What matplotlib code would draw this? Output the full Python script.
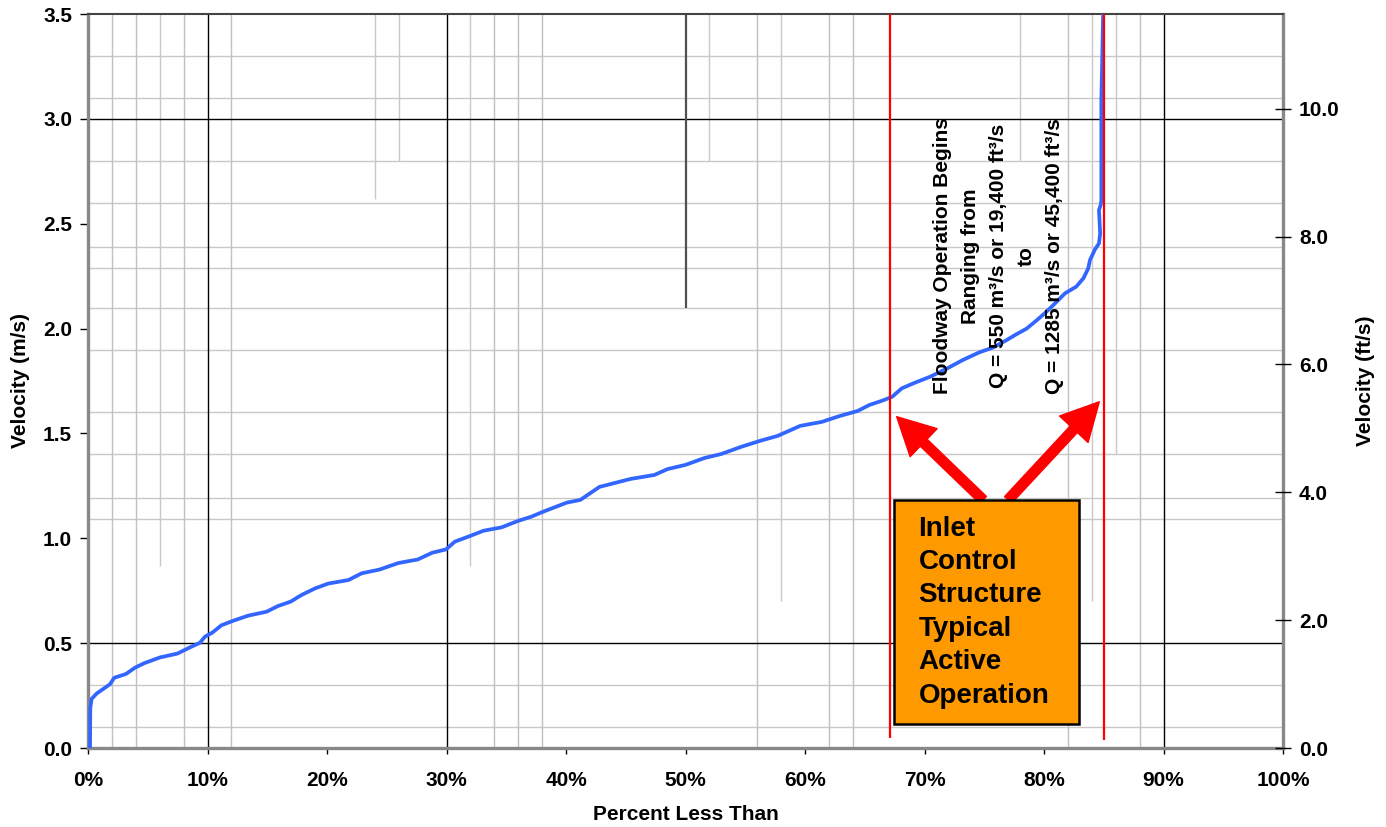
import matplotlib
matplotlib.use("Agg")
import matplotlib.pyplot as plt
from matplotlib.patches import Rectangle
from matplotlib.ticker import FuncFormatter

plt.rcParams['font.family'] = ['Liberation Sans', 'DejaVu Sans']
plt.rcParams['font.weight'] = 'bold'

# ---- data -------------------------------------------------------------
pct = [0.17, 0.19, 0.3, 0.73, 1.84, 2.2, 3.18, 3.93, 4.69, 6.03, 7.47, 8.54, 9.37,
       9.79, 10.4, 11.16, 12.16, 13.4, 14.95, 15.9, 16.96, 17.88, 19.0, 20.1, 21.8,
       22.9, 24.4, 25.97, 27.6, 28.8, 29.96, 30.7, 31.97, 33.1, 34.6, 36.0, 37.1,
       38.1, 40.06, 41.2, 42.8, 45.4, 47.4, 48.5, 50.0, 51.6, 53.0, 54.6, 56.2,
       57.7, 59.6, 61.4, 62.9, 64.4, 65.4, 66.4, 67.3, 68.1, 69.2, 70.5, 71.9,
       73.2, 74.6, 75.76, 76.9, 77.6, 78.55, 79.4, 80.2, 81.06, 81.76, 82.7, 83.3,
       83.7, 83.85, 84.27, 84.6, 84.7, 84.6, 84.75, 84.8, 84.8, 84.95]
vel = [0.0, 0.19, 0.234, 0.26, 0.304, 0.335, 0.353, 0.383, 0.404, 0.432, 0.45, 0.48,
       0.502, 0.531, 0.55, 0.585, 0.607, 0.631, 0.65, 0.677, 0.698, 0.73, 0.761,
       0.784, 0.801, 0.833, 0.851, 0.882, 0.899, 0.931, 0.947, 0.984, 1.011, 1.036,
       1.052, 1.083, 1.103, 1.127, 1.17, 1.183, 1.245, 1.283, 1.302, 1.33, 1.35,
       1.383, 1.402, 1.435, 1.464, 1.488, 1.536, 1.555, 1.583, 1.607, 1.636, 1.655,
       1.675, 1.715, 1.742, 1.771, 1.81, 1.85, 1.887, 1.91, 1.946, 1.97, 2.0, 2.04,
       2.08, 2.128, 2.168, 2.2, 2.24, 2.287, 2.327, 2.378, 2.406, 2.454, 2.565,
       2.59, 2.613, 3.09, 3.5]

x_ticks = [0, 10, 20, 30, 40, 50, 60, 70, 80, 90, 100]
y_ticks_ms = [0.0, 0.5, 1.0, 1.5, 2.0, 2.5, 3.0, 3.5]
y_ticks_fts = [0.0, 2.0, 4.0, 6.0, 8.0, 10.0]
MS_TO_FTS = 3.28084

# gridlines as they appear in the picture
grid_x_gray = [2, 4, 8, 12, 34, 36, 38, 56, 62, 64, 82, 88]
grid_x_gray_partial = [6, 24, 26, 32, 52, 58, 78, 84, 86]
grid_x_gray_partial_low = [0.87, 2.62, 2.8, 0.87, 2.8, 0.7, 2.8, 0.7, 1.4]
grid_x_black = [10, 30, 90]
grid_x_dark_partial = [50]
grid_x_dark_partial_low = [2.1]
grid_y_gray = [0.1, 0.3, 1.09, 1.19, 1.4, 1.6, 1.9, 2.1, 2.29, 2.39, 2.6, 2.8, 3.1, 3.3]
grid_y_black = [0.5, 3.0]

red_lines_x = [67.15, 85.05]
red_lines_low = [0.05, 0.04]

arrow_tails = [(74.9, 1.183), (77.0, 1.183)]
arrow_tips = [(67.67, 1.58), (84.63, 1.651)]

box_x = (67.47, 82.95)
box_y = (0.114, 1.183)
box_text = "Inlet\nControl\nStructure\nTypical\nActive\nOperation"
note_text = ("Floodway Operation Begins\nRanging from\n"
             "Q = 550 m\u00b3/s or 19,400 ft\u00b3/s\nto\n"
             "Q = 1285 m\u00b3/s or 45,400 ft\u00b3/s")

# ---- figure -----------------------------------------------------------
fig = plt.figure(figsize=(13.86, 8.27), dpi=100)
ax = fig.add_axes([88 / 1386, 79 / 827, 1195 / 1386, 734 / 827])
ax.set_xlim(0, 100)
ax.set_ylim(0, 3.5)

# gridlines
for yv in grid_y_gray:
    ax.axhline(yv, color='#c8c8c8', lw=1.0, zorder=1)
for xv in grid_x_gray:
    ax.axvline(xv, color='#c0c0c0', lw=1.0, zorder=1)
ax.vlines(grid_x_gray_partial, grid_x_gray_partial_low, 3.5, color='#c8c8c8', lw=1.0, zorder=1)
for yv in grid_y_black:
    ax.axhline(yv, color='black', lw=1.0, zorder=2)
for xv in grid_x_black:
    ax.axvline(xv, color='black', lw=1.0, zorder=2)
ax.vlines(grid_x_dark_partial, grid_x_dark_partial_low, 3.5, color='#505050', lw=1.6, zorder=2)

# data curve
ax.plot(pct, vel, color='#3366ff', lw=2.7, zorder=4, solid_joinstyle='round')

# red boundary lines
ax.vlines(red_lines_x, red_lines_low, 3.5, color='#ff0000', lw=1.6, zorder=5)

# arrows
for tail, tip in zip(arrow_tails, arrow_tips):
    ax.annotate('', xy=tip, xytext=tail,
                arrowprops=dict(arrowstyle='simple,head_length=2.7,head_width=2.8,tail_width=0.7',
                                color='#ff0000', mutation_scale=10, shrinkA=0, shrinkB=0),
                zorder=6)

# orange box
ax.add_patch(Rectangle((box_x[0], box_y[0]), box_x[1] - box_x[0], box_y[1] - box_y[0],
                       facecolor='#ff9900', edgecolor='black', lw=1.8, zorder=7))
ax.text(69.49, (box_y[0] + box_y[1]) / 2, box_text, ha='left', va='center',
        fontsize=20, fontweight='bold', linespacing=1.37, zorder=8)

# rotated note
ax.text(76.2, (748 - 256) / 209.7, note_text, rotation=90, ha='center', va='center',
        multialignment='center', fontsize=15, fontweight='bold', linespacing=1.6, zorder=8)

# axes styling
ax.set_xticks(x_ticks)
ax.xaxis.set_major_formatter(FuncFormatter(lambda v, p: f"{v:.0f}%"))
ax.set_yticks(y_ticks_ms)
ax.yaxis.set_major_formatter(FuncFormatter(lambda v, p: f"{v:.1f}"))
ax.tick_params(axis='x', direction='out', length=4.5, width=1, pad=12, labelsize=15)
ax.tick_params(axis='y', direction='out', length=5.5, width=1, pad=6, labelsize=15)
ax.tick_params(axis='y', right=False)
for lab in ax.get_xticklabels() + ax.get_yticklabels():
    lab.set_fontweight('bold')

for side in ['left', 'bottom', 'right']:
    ax.spines[side].set_color('#888888')
    ax.spines[side].set_linewidth(2.4)
ax.spines['top'].set_color('#444444')
ax.spines['top'].set_linewidth(1.5)
for sp in ax.spines.values():
    sp.set_zorder(3)

ax.set_xlabel('Percent Less Than', fontsize=15, fontweight='bold', labelpad=11)
ax.set_ylabel('Velocity (m/s)', fontsize=15, fontweight='bold', labelpad=9)

ax2 = ax.twinx()
ax2.set_ylim(0, 3.5 * MS_TO_FTS)
ax2.set_yticks(y_ticks_fts)
ax2.yaxis.set_major_formatter(FuncFormatter(lambda v, p: f"{v:.1f}"))
ax2.tick_params(axis='y', direction='inout', length=11, width=1, pad=6, labelsize=15)
for lab in ax2.get_yticklabels():
    lab.set_fontweight('bold')
for sp in ax2.spines.values():
    sp.set_visible(False)
ax2.set_ylabel('Velocity (ft/s)', fontsize=15, fontweight='bold', labelpad=12)

fig.savefig('out.png', dpi=100)
